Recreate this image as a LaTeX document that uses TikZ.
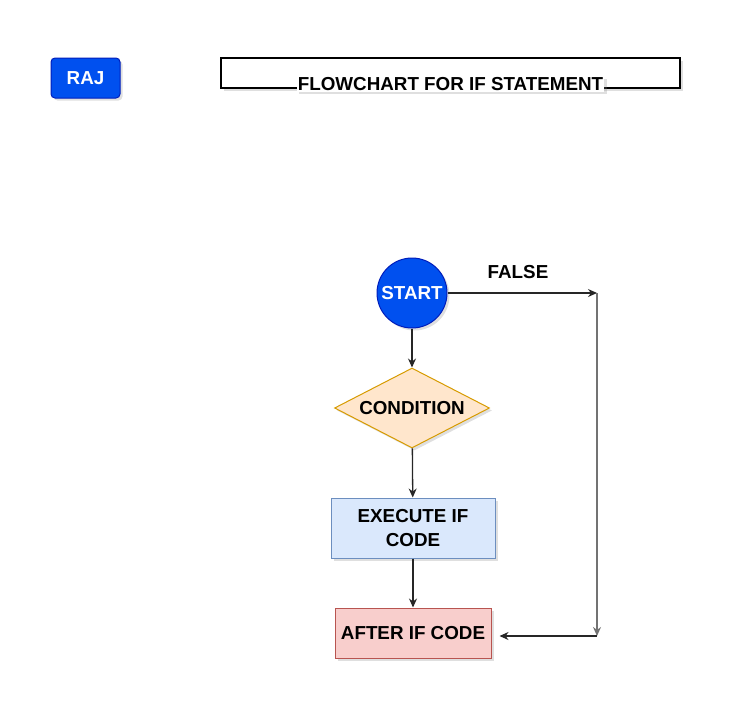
\documentclass[tikz,border=0pt]{standalone}
\usepackage{fontspec}
\setmainfont{Liberation Sans}
\usetikzlibrary{arrows.meta, shapes.geometric, shadows}
\definecolor{rajblue}{HTML}{0050EF}
\definecolor{rajblueline}{HTML}{001DBC}
\definecolor{condfill}{HTML}{FFE6CC}
\definecolor{condline}{HTML}{D79B00}
\definecolor{execfill}{HTML}{DAE8FC}
\definecolor{execline}{HTML}{6C8EBF}
\definecolor{afterfill}{HTML}{F8CECC}
\definecolor{afterline}{HTML}{B85450}

\begin{document}
\begin{tikzpicture}[x=1pt, y=-1pt,
    every node/.style={font=\fontsize{18.8}{24}\selectfont\bfseries, inner sep=2pt},
    shade/.style={drop shadow={shadow xshift=2.5pt, shadow yshift=-2.5pt, opacity=0.25}},
    flow/.style={draw=black!85, line width=1.3pt, -{Stealth[length=9pt, width=8pt]}},
    bluebox/.style={shade, draw=rajblueline, fill=rajblue, text=white, line width=1pt}]
    \useasboundingbox (0,0) rectangle (738,715);

    % Header
    \node[bluebox, rounded corners=4pt, minimum width=69pt, minimum height=40pt] (raj) at (85.5,78) {RAJ};
    \node[shade, draw=black, fill=white, line width=1.2pt, minimum width=459pt, minimum height=30pt] (title) at (450.5,73) {};
    \node[shade, fill=white, inner sep=1pt] (titlelbl) at (450.5,84) {FLOWCHART FOR IF STATEMENT};

    % Flow nodes
    \node[bluebox, circle, minimum size=70pt, inner sep=0pt] (start) at (412,293) {START};
    \node[shade, diamond, aspect=1.95, draw=condline, fill=condfill, line width=1pt,
          minimum width=155pt, minimum height=80pt, inner sep=0pt] (cond) at (412,408) {CONDITION};
    \node[shade, draw=execline, fill=execfill, line width=1pt, align=center,
          minimum width=164pt, minimum height=60pt] (exec) at (413,528) {EXECUTE IF\\CODE};
    \node[shade, draw=afterline, fill=afterfill, line width=1pt,
          minimum width=156pt, minimum height=50pt] (after) at (413,633) {AFTER IF CODE};

    % False branch
    \coordinate (ftop) at (597,293);
    \coordinate (fbot) at (597,636);
    \node (falselbl) at (518,272) {FALSE};

    % Connectors
    \draw[flow] (start) -- (cond);
    \draw[flow] (cond) -- (exec);
    \draw[flow] (exec) -- (after);
    \draw[flow] (start) -- (ftop);
    \draw[flow, draw=black!55, line width=1.8pt] (ftop) -- (fbot);
    \draw[flow] (fbot) -- ([xshift=8pt, yshift=-3pt]after.east);
\end{tikzpicture}
\end{document}
